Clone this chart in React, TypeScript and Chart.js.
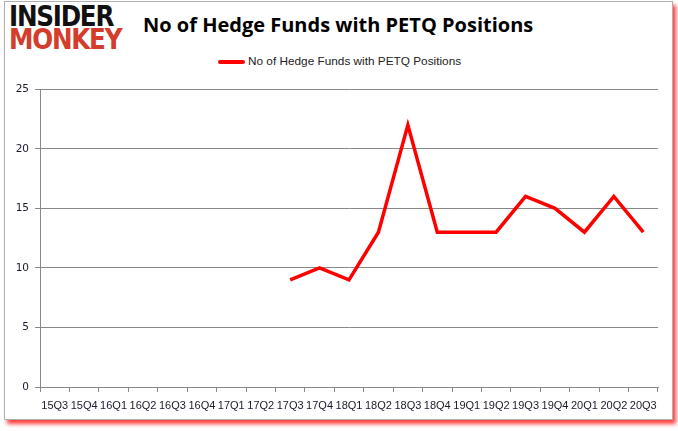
import React, { useEffect, useRef } from "react";
import { Chart, registerables } from "chart.js";

Chart.register(...registerables);

const quarters = ["15Q3","15Q4","16Q1","16Q2","16Q3","16Q4","17Q1","17Q2","17Q3","17Q4","18Q1","18Q2","18Q3","18Q4","19Q1","19Q2","19Q3","19Q4","20Q1","20Q2","20Q3"];
const hedgeFunds: (number | null)[] = [null,null,null,null,null,null,null,null,9,10,9,13,22,13,13,13,16,15,13,16,13];
const yTicks = [0, 5, 10, 15, 20, 25];
const seriesLabel = "No of Hedge Funds with PETQ Positions";
const titleText = "No of Hedge Funds with PETQ Positions";

export default function App() {
  const ref = useRef<HTMLCanvasElement | null>(null);
  useEffect(() => {
    document.body.style.margin = "0";
    if (!ref.current) return;
    const chart = new Chart(ref.current, {
      type: "line",
      data: {
        labels: quarters,
        datasets: [{
          label: seriesLabel,
          data: hedgeFunds,
          borderColor: "#ff0000",
          backgroundColor: "#ff0000",
          borderWidth: 3.5,
          pointRadius: 0,
          tension: 0,
          spanGaps: false,
        }],
      },
      options: {
        animation: false,
        responsive: false,
        maintainAspectRatio: false,
        layout: { padding: { left: 0, right: 20, top: 7, bottom: 0 } },
        plugins: { legend: { display: false }, title: { display: false }, tooltip: { enabled: false } },
        scales: {
          x: {
            offset: true,
            grid: { display: true, offset: true, drawOnChartArea: false, drawTicks: true, tickLength: 5, color: "#888888" },
            border: { display: true, color: "#888888" },
            ticks: { autoSkip: false, maxRotation: 0, minRotation: 0, color: "#1a1a2e", font: { family: "Liberation Sans", size: 11 }, padding: 7 },
            afterFit: (s: any) => { s.height = 33; },
          },
          y: {
            min: 0, max: 25,
            afterBuildTicks: (s: any) => { s.ticks = yTicks.map((v) => ({ value: v })); },
            grid: { color: "#888888", tickLength: 5, drawTicks: true },
            border: { display: true, color: "#888888" },
            ticks: { color: "#1a1a2e", font: { family: "DejaVu Sans", size: 10.5 }, padding: 6 },
            afterFit: (s: any) => { s.width = 40; },
          },
        },
      },
    });
    return () => chart.destroy();
  }, []);

  return (
    <div style={{ position: "absolute", left: 0, top: 0, width: 678, height: 431, background: "#fff", overflow: "hidden" }}>
      <div style={{ position: "absolute", left: 4, top: 1, width: 667, height: 417, border: "1px solid #b0b0b0", boxShadow: "3px 4px 4px rgba(255,0,0,0.75)", background: "#fff" }} />
      <div style={{ position: "absolute", left: 9, top: 5, fontFamily: "DejaVu Sans", fontWeight: 900, fontSize: 29, lineHeight: "23px", letterSpacing: -1.5, transform: "scaleX(0.85)", transformOrigin: "left top" }}>
        <div style={{ color: "#111" }}>INSIDER</div>
        <div style={{ color: "#d43c2c" }}>MONKEY</div>
      </div>
      <div style={{ position: "absolute", left: 0, width: 678, top: 11, textAlign: "center", fontFamily: "Open Sans", fontWeight: 700, fontSize: 20, color: "#000" }}>
        <span style={{ position: "absolute", left: 143, whiteSpace: "nowrap" }}>{titleText}</span>
      </div>
      <div style={{ position: "absolute", left: 218, top: 60, width: 27, height: 4, background: "#ff0000", borderRadius: 2 }} />
      <div style={{ position: "absolute", left: 248, top: 54, fontFamily: "Liberation Sans", fontSize: 11.8, color: "#222", whiteSpace: "nowrap" }}>{seriesLabel}</div>
      <canvas ref={ref} width={678} height={343} style={{ position: "absolute", left: 0, top: 77, width: 678, height: 343 }} />
    </div>
  );
}
